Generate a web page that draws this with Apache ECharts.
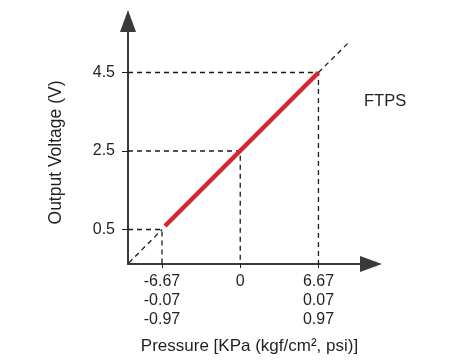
<!DOCTYPE html>
<html><head><meta charset="utf-8">
<script src="https://cdn.jsdelivr.net/npm/echarts@6/dist/echarts.min.js"></script>
<style>html,body{margin:0;padding:0;background:#fff}#c{width:452px;height:364px}</style>
</head><body><div id="c"></div>
<script>
// Data
const pressureKPa = [-6.67, 0, 6.67];
const pressureKgf = ['-0.07', '', '0.07'];
const pressurePsi = ['-0.97', '', '0.97'];
const voltageTicks = [0.5, 2.5, 4.5];
const outputVoltage = [0.5, 2.5, 4.5];
const redLine = [[-6.42, 0.59], [6.67, 4.5]];
const extLower = [[-9.5, -0.35], [-6.67, 0.5]];
const extUpper = [[6.67, 4.5], [9.3, 5.28]];
const xMin = -9.57, xMax = 11.15, yMin = -0.379, yMax = 5.812;

const FONT = 'Liberation Sans';
const TXT = '#231f20';
const dashStyle = {color: '#1a1a1a', width: 1.3, type: [5, 4]};

const guideSeries = pressureKPa.map((p, i) => ({
  type: 'line', silent: true, showSymbol: false, symbol: 'none', z: 2,
  data: [[xMin, outputVoltage[i]], [p, outputVoltage[i]], [p, yMin]],
  lineStyle: dashStyle
}));

const chart = echarts.init(document.getElementById('c'), null, {renderer: 'canvas'});
chart.setOption({
  animation: false,
  grid: {left: 128, top: 21, width: 243, height: 243, containLabel: false},
  xAxis: {
    type: 'value', min: xMin, max: xMax,
    name: 'Pressure [KPa (kgf/cm², psi)]', nameLocation: 'middle', nameGap: 74,
    nameTextStyle: {fontFamily: FONT, fontSize: 17, color: TXT},
    splitLine: {show: false},
    axisLine: {onZero: false, lineStyle: {color: '#3a3a3a', width: 2}, symbol: ['none', 'triangle'], symbolSize: [16, 22]},
    axisTick: {customValues: pressureKPa, length: 4, lineStyle: {color: '#222', width: 1}},
    axisLabel: {
      customValues: pressureKPa, margin: 8,
      fontFamily: FONT, fontSize: 16, color: TXT, lineHeight: 19,
      formatter: function (v) {
        const i = pressureKPa.findIndex(p => Math.abs(p - v) < 1e-6);
        if (i < 0) return '';
        const a = String(pressureKPa[i]);
        return a + '\n' + pressureKgf[i] + '\n' + pressurePsi[i];
      }
    }
  },
  yAxis: {
    type: 'value', min: yMin, max: yMax,
    name: 'Output Voltage (V)', nameLocation: 'middle', nameGap: 63,
    nameTextStyle: {fontFamily: FONT, fontSize: 17.5, color: TXT, padding: [0, 20, 0, 0]},
    splitLine: {show: false},
    axisLine: {show: true, onZero: false, lineStyle: {color: '#3a3a3a', width: 2}, symbol: ['none', 'triangle'], symbolSize: [16, 22]},
    axisTick: {show: true, customValues: voltageTicks, length: 6, lineStyle: {color: '#222', width: 1}},
    axisLabel: {customValues: voltageTicks, margin: 13, fontFamily: FONT, fontSize: 16, color: TXT,
      formatter: v => String(v)}
  },
  graphic: [{type: 'text', left: 364, top: 93, style: {text: 'FTPS', fontFamily: FONT, fontSize: 16.5, fill: TXT}}],
  series: guideSeries.concat([
    {type: 'line', silent: true, showSymbol: false, symbol: 'none', z: 2, data: extLower, lineStyle: dashStyle},
    {type: 'line', silent: true, showSymbol: false, symbol: 'none', z: 2, data: extUpper, lineStyle: dashStyle},
    {type: 'line', silent: true, showSymbol: false, symbol: 'none', z: 3, data: redLine,
      lineStyle: {color: '#d7262e', width: 4.5, cap: 'butt'}}
  ])
});
</script></body></html>
